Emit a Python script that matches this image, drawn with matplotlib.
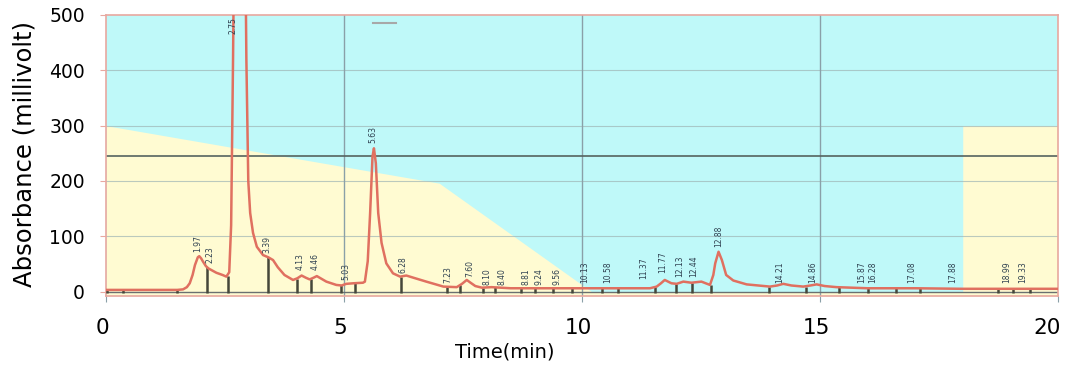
import matplotlib
matplotlib.use('Agg')
import matplotlib.pyplot as plt
from matplotlib.transforms import ScaledTranslation

plt.rcParams['font.family'] = ['DejaVu Sans']

# Chromatogram trace (time in min, absorbance in mV)
trace_t = [0.0, 0.5, 1.0, 1.5, 1.62, 1.70, 1.76, 1.82, 1.87, 1.93, 1.96, 2.00, 2.04, 2.10,
           2.15, 2.32, 2.45, 2.53, 2.59, 2.63, 2.67, 2.70, 2.80, 2.92, 2.95, 2.99, 3.03,
           3.09, 3.17, 3.30, 3.41, 3.51, 3.61, 3.75, 3.93, 4.02, 4.11, 4.20, 4.28, 4.36,
           4.43, 4.53, 4.63, 4.84, 4.95, 5.05, 5.20, 5.40, 5.44, 5.50, 5.55, 5.60, 5.63,
           5.67, 5.72, 5.79, 5.89, 6.03, 6.18, 6.31, 6.50, 6.73, 7.09, 7.37, 7.48, 7.58,
           7.66, 7.76, 7.90, 8.10, 8.50, 9.00, 9.50, 10.0, 10.5, 11.0, 11.43, 11.57, 11.66,
           11.74, 11.88, 11.99, 12.13, 12.30, 12.51, 12.69, 12.76, 12.80, 12.87, 12.94,
           13.03, 13.18, 13.46, 13.95, 14.10, 14.23, 14.40, 14.65, 14.80, 14.93, 15.10,
           15.35, 16.0, 17.0, 18.0, 19.0, 20.0]
trace_mv = [3, 3, 3, 3, 4, 8, 15, 30, 48, 62, 64, 60, 54, 46,
            42, 34, 30, 27, 35, 120, 420, 700, 900, 700, 420, 200, 142,
            106, 81, 66, 62, 57, 44, 30, 21, 24, 29, 25, 22, 25,
            28, 23, 18, 12, 11, 14, 15, 16, 18, 55, 142, 244, 259,
            232, 142, 88, 51, 33, 27, 29, 24, 18, 9, 8, 14, 21,
            16, 10, 7, 8, 6, 6, 6, 6, 6, 6, 6, 9, 15,
            21, 15, 14, 18, 16, 18, 12, 30, 51, 72, 57,
            30, 20, 13, 9, 11, 14, 11, 9, 11, 13, 10,
            8, 6, 6, 5, 5, 5]

# Gradient programme (background shading)
grad_t = [0, 7, 10.2, 18, 18, 20]
grad_pct = [300, 196, 0, 0, 300, 300]

# Peak boundary drop lines
drop_t = [0.02, 0.36, 1.49, 2.12, 2.56, 3.40, 4.01, 4.31, 4.94, 5.23, 6.20, 7.16, 7.44,
          7.92, 8.17, 8.72, 9.01, 9.39, 9.79, 10.42, 10.76, 11.53, 11.97, 12.31, 12.71,
          13.93, 14.71, 15.40, 16.0, 16.6, 17.1, 18.74, 19.06, 19.41]
drop_h = [4, 4, 4, 44, 28, 62, 23, 22, 11, 15, 27, 9, 11,
          7, 8, 6, 6, 6, 6, 6, 6, 8, 14, 16, 12,
          9, 9, 8, 6, 6, 6, 5, 5, 5]

# Peak retention time labels
peak_labels = ["1.97", "2.23", "2.75", "3.39", "4.13", "4.46", "5.03", "5.63", "6.28",
               "7.23", "7.60", "8.10", "8.40", "8.81", "9.24", "9.56", "10.13", "10.58",
               "11.37", "11.77", "12.13", "12.44", "12.88", "14.21", "14.86", "15.87",
               "16.28", "17.08", "17.88", "18.99", "19.33"]
label_t = [1.92, 2.19, 2.67, 3.38, 4.08, 4.39, 5.04, 5.60, 6.24,
           7.18, 7.65, 8.00, 8.32, 8.82, 9.10, 9.47, 10.06, 10.55,
           11.30, 11.70, 12.06, 12.35, 12.87, 14.16, 14.85, 15.88,
           16.11, 16.93, 17.79, 18.93, 19.26]
label_y = [71, 51, 466, 69, 39, 39, 21, 268, 33,
           15, 26, 12, 12, 12, 12, 12, 15, 15,
           22, 33, 26, 26, 80, 15, 15, 15,
           15, 15, 15, 15, 15]

fig = plt.figure(figsize=(10.67, 3.72), dpi=100)
ax = fig.add_axes([0.0993, 0.2043, 0.8922, 0.7554])
ax.set_facecolor('#bff9f9')

ax.fill_between(grad_t, -8, grad_pct, color='#fffbd2', lw=0, zorder=0)

ax.set_xlim(0, 20)
ax.set_ylim(-8, 500)

for v in [100, 200, 300, 400]:
    ax.axhline(v, color='#9fb5b5', lw=0.8, alpha=0.7, zorder=1)
for v in [5, 10, 15]:
    ax.axvline(v, color='#8aa0a8', lw=1.0, zorder=1)
ax.axhline(245, color='#55635f', lw=1.2, zorder=2)
ax.axhline(0, color='#6a7070', lw=1.0, zorder=2)

ax.plot([5.6, 6.1], [485, 485], color='#a8a8a8', lw=1.5, zorder=2)

ax.vlines(drop_t, -2, drop_h, color='#45473a', lw=1.8, zorder=3)
ax.plot(trace_t, trace_mv, color='#e07060', lw=1.8, zorder=4)

for txt, t, y in zip(peak_labels, label_t, label_y):
    ax.text(t, y, txt, rotation=90, ha='center', va='bottom', fontsize=5.5,
            color='#2e4050', zorder=5)

for s in ax.spines.values():
    s.set_color('#e8a8a0')
    s.set_linewidth(1.2)

ax.set_xticks([0, 5, 10, 15, 20])
ax.set_yticks([0, 100, 200, 300, 400, 500])
ax.tick_params(axis='y', length=4, color='#e8a8a0', pad=11, labelsize=13.5)
ax.tick_params(axis='x', length=4, color='#8aa0a8', pad=12, labelsize=15.5)

# x tick labels sit a little left of their ticks in the reference
xlabels = ax.get_xticklabels()
for i, lab in enumerate(xlabels):
    dx = -11 if i == len(xlabels) - 1 else -4
    lab.set_transform(lab.get_transform() + ScaledTranslation(dx / 100, 0, fig.dpi_scale_trans))

ax.set_ylabel('Absorbance (millivolt)', fontsize=17.5)
ax.yaxis.set_label_coords(-0.073, 0.505)
ax.set_xlabel('Time(min)', fontsize=14)
ax.xaxis.set_label_coords(0.419, -0.165)

fig.savefig('out.png', dpi=100)
